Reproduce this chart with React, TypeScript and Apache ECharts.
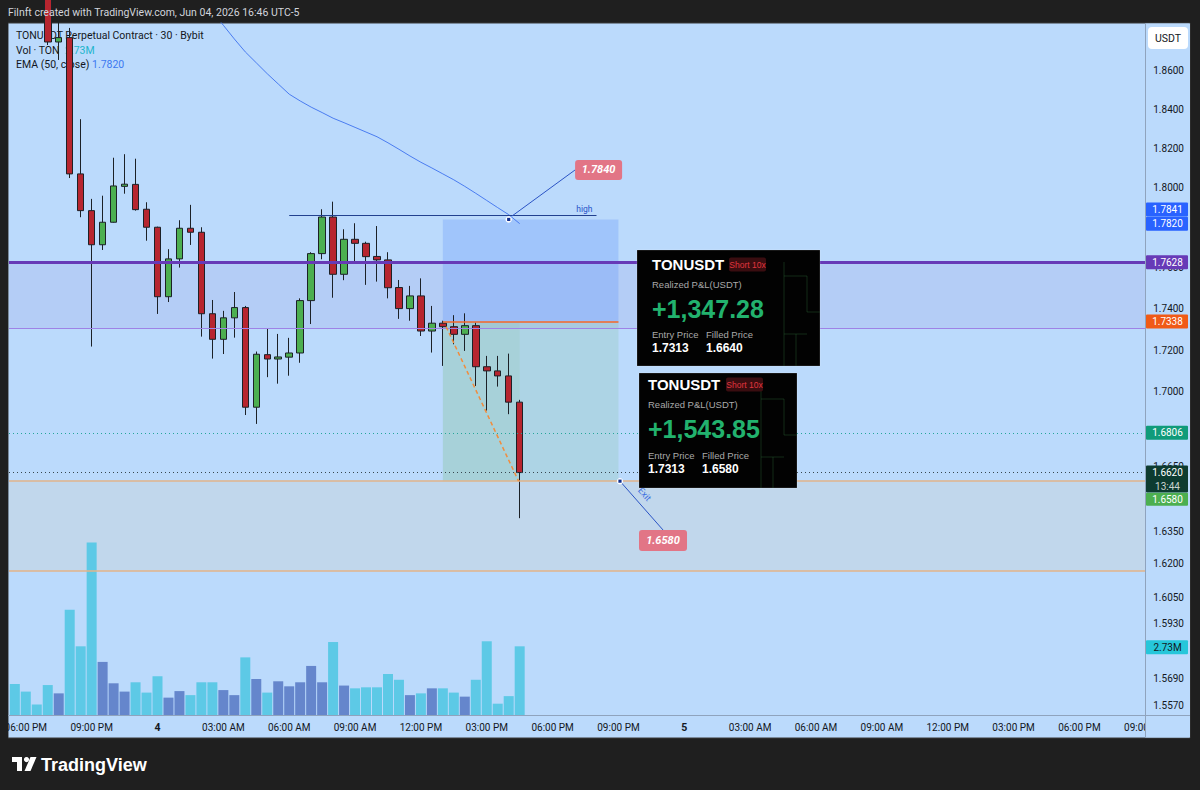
import React, { useEffect, useRef } from "react";
import * as echarts from "echarts";

// ---------- data ----------
const BAR_INDEX = [-13,-12,-11,-10,-9,-8,-7,-6,-5,-4,-3,-2,-1,0,1,2,3,4,5,6,7,8,9,10,11,12,13,14,15,16,17,18,19,20,21,22,23,24,25,26,27,28,29,30,31,32,33];
const OPEN = [1.955,1.932,1.918,1.905,1.875,1.8773,1.807,1.7885,1.7715,1.7827,1.8007,1.8017,1.7892,1.7802,1.7459,1.7645,1.7797,1.7777,1.7376,1.7252,1.7356,1.7406,1.6927,1.7178,1.7157,1.7166,1.7186,1.744,1.7671,1.7853,1.7569,1.7742,1.7722,1.7657,1.764,1.7504,1.7401,1.7463,1.7292,1.733,1.7313,1.7276,1.7318,1.712,1.71,1.7076,1.6951];
const CLOSE = [1.932,1.918,1.905,1.875,1.8773,1.807,1.7885,1.7715,1.7827,1.8009,1.8018,1.789,1.7802,1.7459,1.7645,1.7797,1.7777,1.7376,1.7252,1.7356,1.7406,1.6927,1.718,1.7157,1.7167,1.7186,1.744,1.7671,1.7853,1.7569,1.7742,1.7722,1.7656,1.764,1.7503,1.7401,1.7463,1.7292,1.733,1.7313,1.7276,1.7318,1.712,1.71,1.7076,1.6951,1.662];
const LOW = [1.925,1.91,1.899,1.8734,1.8656,1.8049,1.7852,1.7217,1.7689,1.7825,1.797,1.7885,1.7735,1.7375,1.7433,1.7602,1.7714,1.7265,1.7159,1.7181,1.726,1.689,1.6848,1.707,1.7039,1.7077,1.7139,1.7326,1.7643,1.7454,1.754,1.7631,1.7517,1.7533,1.7451,1.7351,1.7342,1.7268,1.7188,1.7124,1.7228,1.7196,1.7028,1.6911,1.7025,1.6894,1.6409];
const HIGH = [1.962,1.94,1.925,1.91,1.895,1.8824,1.8349,1.7944,1.796,1.8152,1.817,1.8147,1.7927,1.7805,1.7693,1.7837,1.7914,1.7802,1.7443,1.739,1.7482,1.7414,1.7193,1.7302,1.7278,1.7259,1.7451,1.7678,1.7892,1.793,1.7792,1.7822,1.773,1.7808,1.7678,1.7541,1.7512,1.7549,1.7414,1.7342,1.7369,1.7378,1.7333,1.7172,1.7172,1.7183,1.6962];
const VOLUME_M = [1.23,0.93,0.42,1.19,0.86,4.18,2.73,6.86,2.11,1.26,0.93,1.3,0.89,1.54,0.69,0.95,0.79,1.3,1.3,0.99,0.79,2.29,1.43,0.89,1.34,1.14,1.3,1.95,1.3,2.9,1.17,1.06,1.1,1.1,1.63,1.4,0.79,0.86,1.06,1.06,0.89,0.73,1.4,2.93,0.45,0.75,2.73];
const EMA_INDEX = [5,6,7,8,9,10,11,12,13,14,15,16,17,18,19,20,21,22,23,24,25,26,27,28,29,30,31,32,33];
const EMA = [1.8909,1.8838,1.8766,1.8698,1.8641,1.8584,1.8531,1.8478,1.8443,1.8411,1.8383,1.8354,1.8331,1.8307,1.8283,1.8259,1.8228,1.8195,1.8161,1.8129,1.81,1.807,1.804,1.8007,1.7972,1.7936,1.79,1.7865,1.782];

// visible price-scale ticks (1.78, 1.68 and 1.65 sit fully under price tags in the reference)
const PRICE_TICKS = [1.86,1.84,1.82,1.8,1.76,1.74,1.72,1.7,1.665,1.635,1.62,1.605,1.593,1.581,1.569,1.557];
const TIME_TICKS = [-12,-6,0,6,12,18,24,30,36,42,48,54,60,66,72,78,84,90];
const TIME_TICK_LABELS = ["06:00 PM","09:00 PM","4","03:00 AM","06:00 AM","09:00 AM","12:00 PM","03:00 PM","06:00 PM","09:00 PM","5","03:00 AM","06:00 AM","09:00 AM","12:00 PM","03:00 PM","06:00 PM","09:00 PM"];

// price levels / drawings
const LEVEL_PURPLE = 1.7628;
const LEVEL_PURPLE_LOW = 1.7305;
const ENTRY_LINE = 1.7338;
const STOP = 1.7841;
const TARGET = 1.658;
const BAND_LOW = 1.6168;
const LEVEL_TEAL = 1.6806;
const LAST = 1.662;
const HIGH_LINE = 1.7862;
const EMA_LAST = 1.782;
const LAST_VOL = 2.73;
const POSITION_X = [26, 42];
const FILLED_X = 33;
const HIGH_LINE_X = [12, 40];
const TRADE_PATH = [[26.3, 1.7313], [32.9, 1.658]];
const NOTE_HIGH = { dot: [32, 1.7841], from: [32.3, 1.7858], to: [38.05, 1.809], text: "1.7840" };
const NOTE_EXIT = { dot: [42.14, 1.658], to: [46.06, 1.6355], text: "1.6580" };

// ---------- style ----------
const FONT = "Roboto, 'Noto Sans', sans-serif";
const CARD_FONT = "'Liberation Sans', Arial, sans-serif";
const PAGE_BG = "#1F1F1F";
const PLOT_BG = "#BBDAFC";
const SEP = "#8FA3BD";
const TXT = "#131722";
const X_MIN = (9 - 157.5) / 10.975;
const X_MAX = 90;
const Y_MIN = 1.5529;
const Y_MAX = 1.885;
const VOL_MAX = 6.955;

const fmtTime = (v: number) => {
  const k = TIME_TICKS.indexOf(Math.round(v));
  const s = k >= 0 ? TIME_TICK_LABELS[k] : "";
  return s.length <= 2 ? `{d|${s}}` : s;
};

function buildOption(): any {
  const candleData = BAR_INDEX.map((x, i) => [x, OPEN[i], CLOSE[i], LOW[i], HIGH[i]]);
  const volumeData = BAR_INDEX.map((x, i) => ({
    value: [x, VOLUME_M[i]],
    itemStyle: { color: CLOSE[i] >= OPEN[i] ? "#6586CC" : "#5DC9E6" },
  }));
  const emaData = EMA_INDEX.map((x, i) => [x, EMA[i]]);
  return {
    animation: false,
    backgroundColor: PAGE_BG,
    textStyle: { fontFamily: FONT },
    grid: [
      { left: 9, right: 54.75, top: 23, bottom: 75, containLabel: false, outerBoundsMode: "none" },
      { left: 9, right: 54.75, top: 540, bottom: 75, containLabel: false, outerBoundsMode: "none" },
    ],
    xAxis: [
      {
        type: "value", gridIndex: 0, min: X_MIN, max: X_MAX,
        axisLine: { show: false }, axisTick: { show: false }, splitLine: { show: false },
        axisLabel: {
          customValues: TIME_TICKS, formatter: fmtTime, margin: 7, fontSize: 10, color: TXT, fontFamily: FONT,
          rich: { d: { fontWeight: "bold", fontSize: 10.5, color: TXT, fontFamily: FONT } },
        },
      },
      { type: "value", gridIndex: 1, min: X_MIN, max: X_MAX, show: false },
    ],
    yAxis: [
      {
        type: "log", logBase: 10, gridIndex: 0, position: "right", min: Y_MIN, max: Y_MAX, z: 60,
        axisLine: { show: false }, axisTick: { show: false }, splitLine: { show: false },
        axisLabel: {
          customValues: PRICE_TICKS, formatter: (v: number) => Number(v).toFixed(4),
          margin: 8, fontSize: 10, color: TXT, fontFamily: FONT,
        },
      },
      { type: "value", gridIndex: 1, min: 0, max: VOL_MAX, show: false },
    ],
    series: [
      {
        type: "bar", name: "Vol", xAxisIndex: 1, yAxisIndex: 1, data: volumeData, barWidth: 10, z: 2, silent: true,
      },
      {
        type: "candlestick", name: "TONUSDT", xAxisIndex: 0, yAxisIndex: 0, data: candleData, barWidth: 7,
        z: 3, clip: true, silent: true,
        itemStyle: { color: "#4CAF50", color0: "#B7252F", borderColor: "#1C2127", borderColor0: "#1C2127", borderWidth: 1 },
        markArea: {
          silent: true, label: { show: false },
          data: [
            [{ yAxis: LEVEL_PURPLE, itemStyle: { color: "rgba(103,58,183,0.08)" } }, { yAxis: LEVEL_PURPLE_LOW }],
            [{ yAxis: TARGET, itemStyle: { color: "rgba(230,200,150,0.15)" } }, { yAxis: BAND_LOW }],
            [{ coord: [POSITION_X[0], STOP], itemStyle: { color: "rgba(100,150,250,0.3)" } }, { coord: [POSITION_X[1], ENTRY_LINE] }],
            [{ coord: [POSITION_X[0], ENTRY_LINE], itemStyle: { color: "rgba(120,190,140,0.2)" } }, { coord: [POSITION_X[1], TARGET] }],
            [{ coord: [POSITION_X[0], ENTRY_LINE], itemStyle: { color: "rgba(120,190,130,0.12)" } }, { coord: [FILLED_X, TARGET] }],
          ],
        },
        markLine: {
          silent: true, precision: 4, symbol: ["none", "none"], label: { show: false }, emphasis: { disabled: true },
          data: [
            { yAxis: LEVEL_PURPLE, lineStyle: { color: "#673AB7", width: 3, type: "solid" } },
            { yAxis: LEVEL_PURPLE_LOW, lineStyle: { color: "#9E82E6", width: 1, type: "solid" } },
            { yAxis: TARGET, lineStyle: { color: "#E2B38A", width: 1.5, type: "solid" } },
            { yAxis: BAND_LOW, lineStyle: { color: "#E2B38A", width: 1.5, type: "solid" } },
            { yAxis: LEVEL_TEAL, lineStyle: { color: "#26A69A", width: 1, type: [1, 3] } },
            { yAxis: LAST, lineStyle: { color: "#37474F", width: 1, type: [1, 3] } },
            [{ coord: [HIGH_LINE_X[0], HIGH_LINE], lineStyle: { color: "#22418F", width: 1.2, type: "solid" } }, { coord: [HIGH_LINE_X[1], HIGH_LINE] }],
            [{ coord: [POSITION_X[0], ENTRY_LINE], lineStyle: { color: "#F4662A", width: 1.5, type: "solid" } }, { coord: [POSITION_X[1], ENTRY_LINE] }],
            [{ coord: TRADE_PATH[0], lineStyle: { color: "#F28C3C", width: 1.5, type: [4, 3] } }, { coord: TRADE_PATH[1] }],
          ],
        },
      },
      {
        type: "line", name: "EMA", xAxisIndex: 0, yAxisIndex: 0, data: emaData, symbol: "none", z: 4, clip: true,
        silent: true, lineStyle: { color: "#4A7CF0", width: 1 },
      },
    ],
  };
}

function txt(x: number, y: number, text: string, o: any = {}) {
  return {
    type: "text", x, y, z: o.z ?? 70, rotation: o.rotation ?? 0, silent: true,
    style: {
      text, fill: o.fill ?? TXT, fontSize: o.size ?? 10, fontFamily: o.family ?? FONT,
      fontWeight: o.weight ?? "normal", fontStyle: o.fstyle ?? "normal",
      align: o.align ?? "left", verticalAlign: "middle",
      textAlign: o.align ?? "left", textVerticalAlign: "middle",
    },
  };
}
function rect(x: number, y: number, w: number, h: number, fill: string, o: any = {}) {
  return {
    type: "rect", z: o.z ?? 70, silent: true,
    shape: { x, y, width: w, height: h, r: o.r ?? 0 },
    style: { fill, stroke: o.stroke ?? null, lineWidth: o.lw ?? 0 },
  };
}
function seg(x1: number, y1: number, x2: number, y2: number, stroke: string, o: any = {}) {
  return { type: "line", z: o.z ?? 20, silent: true, shape: { x1, y1, x2, y2 }, style: { stroke, lineWidth: o.lw ?? 1 } };
}

function card(x0: number, y0: number, w: number, h: number, tx: number, rows: number[], badgeX: number, filledX: number, pnl: string, filled: string) {
  const z = 80;
  const els: any[] = [];
  els.push(rect(x0, y0, w, h, "#020202", { z, stroke: "rgba(255,255,255,0.18)", lw: 1 }));
  const g = "rgba(40,95,50,0.45)";
  const gx = x0 + w - 36;
  els.push(seg(gx, y0 + 12, gx, y0 + h, g, { z }));
  els.push(seg(gx, y0 + 26, gx + 23, y0 + 26, g, { z }));
  els.push(seg(gx + 23, y0 + 26, gx + 23, y0 + 62, g, { z }));
  els.push(seg(gx + 23, y0 + 62, x0 + w, y0 + 62, g, { z }));
  els.push(seg(gx, y0 + 84, gx + 23, y0 + 84, g, { z }));
  els.push(seg(gx + 12, y0 + 84, gx + 12, y0 + h, g, { z }));
  els.push(txt(x0 + tx, y0 + rows[0], "TONUSDT", { z, fill: "#FFFFFF", size: 15, weight: "bold", family: CARD_FONT }));
  els.push(rect(x0 + badgeX, y0 + rows[0] - 7, 37, 14, "#3A0D10", { z, r: 2 }));
  els.push(txt(x0 + badgeX + 18.5, y0 + rows[0], "Short 10x", { z, fill: "#E0353E", size: 8.5, align: "center", family: CARD_FONT }));
  els.push(txt(x0 + tx, y0 + rows[1], "Realized P&L(USDT)", { z, fill: "#A9A9A9", size: 9.5, family: CARD_FONT }));
  els.push(txt(x0 + tx, y0 + rows[2], pnl, { z, fill: "#22B26E", size: 25, weight: "bold", family: CARD_FONT }));
  els.push(txt(x0 + tx, y0 + rows[3], "Entry Price", { z, fill: "#A9A9A9", size: 9.5, family: CARD_FONT }));
  els.push(txt(x0 + filledX, y0 + rows[3], "Filled Price", { z, fill: "#A9A9A9", size: 9.5, family: CARD_FONT }));
  els.push(txt(x0 + tx, y0 + rows[4], "1.7313", { z, fill: "#FFFFFF", size: 12, weight: "bold", family: CARD_FONT }));
  els.push(txt(x0 + filledX, y0 + rows[4], filled, { z, fill: "#FFFFFF", size: 12, weight: "bold", family: CARD_FONT }));
  return els;
}

function buildOverlay(chart: any) {
  const P = (x: number, p: number) => chart.convertToPixel({ gridIndex: 0 }, [x, p]) as number[];
  const yP = (p: number) => P(0, p)[1];
  const yV = (v: number) => (chart.convertToPixel({ gridIndex: 1 }, [0, v]) as number[])[1];
  const els: any[] = [];

  // panel frame
  els.push(rect(8, 23, 1182, 715, PLOT_BG, { z: -10, stroke: "#3A3A3A", lw: 1 }));
  els.push(rect(1145.5, 23.5, 44.5, 714, PLOT_BG, { z: 50 }));
  els.push(seg(1145.5, 23, 1145.5, 738, SEP, { z: 55 }));
  els.push(seg(8, 715.5, 1190, 715.5, SEP, { z: 55 }));
  els.push(rect(0, 23, 8, 716, PAGE_BG, { z: 100 }));

  // header bar
  els.push(txt(8, 12, "Filnft created with TradingView.com, Jun 04, 2026 16:46 UTC-5", { z: 100, fill: "#D1D4DC", size: 10.5 }));

  // legend
  els.push(txt(16, 35, "TONUSDT Perpetual Contract · 30 · Bybit", { z: 1, size: 10.5 }));
  els.push(txt(16, 50, "Vol · TON", { z: 1, size: 10.5 }));
  els.push(txt(65, 50, "2.73M", { z: 1, size: 10.5, fill: "#22B5CC" }));
  els.push(txt(16, 64.5, "EMA (50, close)", { z: 1, size: 10.5 }));
  els.push(txt(92, 64.5, EMA_LAST.toFixed(4), { z: 1, size: 10.5, fill: "#3B78F0" }));

  // USDT button
  els.push(rect(1148, 27, 40, 22, "#FFFFFF", { z: 70, r: 4 }));
  els.push(txt(1168, 38, "USDT", { z: 71, align: "center", size: 10.5 }));

  // price tags
  const tags = [
    { v: STOP, cy: yP(STOP) - 10, fill: "#2962FF" },
    { v: EMA_LAST, cy: yP(EMA_LAST), fill: "#2962FF" },
    { v: LEVEL_PURPLE, cy: yP(LEVEL_PURPLE), fill: "#673AB7" },
    { v: ENTRY_LINE, cy: yP(ENTRY_LINE), fill: "#F05A17" },
    { v: LEVEL_TEAL, cy: yP(LEVEL_TEAL), fill: "#109B7A" },
  ];
  tags.forEach((t) => {
    els.push(rect(1146, t.cy - 7, 42, 14, t.fill, { z: 70, r: 1 }));
    els.push(txt(1167.5, t.cy, t.v.toFixed(4), { z: 71, align: "center", fill: "#FFFFFF", size: 10 }));
  });
  const yl = yP(LAST);
  els.push(rect(1146, yl - 7, 42, 27, "#0D3B30", { z: 70, r: 1 }));
  els.push(txt(1167.5, yl, LAST.toFixed(4), { z: 71, align: "center", fill: "#FFFFFF", size: 10 }));
  els.push(txt(1167.5, yl + 13.5, "13:44", { z: 71, align: "center", fill: "#C9D3CF", size: 10 }));
  const yt = yP(TARGET) + 18;
  els.push(rect(1146, yt - 6.5, 42, 13, "#4CAF50", { z: 72, r: 1 }));
  els.push(txt(1167.5, yt, TARGET.toFixed(4), { z: 73, align: "center", fill: "#FFFFFF", size: 10 }));
  const yv = yV(LAST_VOL) + 1;
  els.push(rect(1146, yv - 7, 42, 14, "#26C6DA", { z: 70, r: 1 }));
  els.push(txt(1167.5, yv, "2.73M", { z: 71, align: "center", fill: TXT, size: 10 }));

  // "high" label
  const hl = P(HIGH_LINE_X[1], HIGH_LINE);
  els.push(txt(hl[0] - 4, hl[1] - 6.5, "high", { z: 20, align: "right", fill: "#2A55C9", size: 8.5 }));

  // note: 1.7840
  const a0 = P(NOTE_HIGH.from[0], NOTE_HIGH.from[1]);
  const a1 = P(NOTE_HIGH.to[0], NOTE_HIGH.to[1]);
  const ad = P(NOTE_HIGH.dot[0], NOTE_HIGH.dot[1]);
  els.push(seg(a0[0], a0[1], a1[0], a1[1], "#2B54C5", { z: 20 }));
  els.push({ type: "circle", z: 21, silent: true, shape: { cx: ad[0], cy: ad[1], r: 3.2 }, style: { fill: "#FFFFFF" } });
  els.push(rect(ad[0] - 1.6, ad[1] - 1.6, 3.2, 3.2, "#12308F", { z: 22 }));
  els.push(rect(a1[0], a1[1] - 10, 47, 20, "#E27586", { z: 21, r: 3 }));
  els.push(txt(a1[0] + 23.5, a1[1], NOTE_HIGH.text, { z: 22, align: "center", fill: "#FFFFFF", size: 11, weight: "bold", fstyle: "italic" }));

  // note: exit
  const e0 = P(NOTE_EXIT.dot[0], NOTE_EXIT.dot[1]);
  const e1 = P(NOTE_EXIT.to[0], NOTE_EXIT.to[1]);
  els.push(seg(e0[0], e0[1], e1[0], e1[1], "#2B54C5", { z: 20 }));
  els.push({ type: "circle", z: 21, silent: true, shape: { cx: e0[0], cy: e0[1], r: 3.2 }, style: { fill: "#FFFFFF" } });
  els.push(rect(e0[0] - 1.6, e0[1] - 1.6, 3.2, 3.2, "#12308F", { z: 22 }));
  const ang = Math.atan2(e1[1] - e0[1], e1[0] - e0[0]);
  const mx = (e0[0] + e1[0]) / 2 + 8 * Math.sin(ang) - 3;
  const my = (e0[1] + e1[1]) / 2 - 8 * Math.cos(ang) - 6;
  els.push(txt(mx, my, "Exit", { z: 22, align: "center", fill: "#3B6FE0", size: 9, rotation: -ang }));
  els.push(rect(e1[0] - 24, e1[1], 48, 21, "#E27586", { z: 21, r: 3 }));
  els.push(txt(e1[0], e1[1] + 10.5, NOTE_EXIT.text, { z: 22, align: "center", fill: "#FFFFFF", size: 11, weight: "bold", fstyle: "italic" }));

  // P&L cards
  els.push(...card(637, 250, 183, 116, 15, [14.5, 34.5, 58.5, 84, 98], 92, 69, "+1,347.28", "1.6640"));
  els.push(...card(639, 373, 158, 115, 9, [11.5, 31.5, 56, 82, 96], 87, 63, "+1,543.85", "1.6580"));

  // TradingView logo
  els.push(rect(12, 757, 10, 5, "#FFFFFF", { z: 100 }));
  els.push(rect(17, 757, 5, 14, "#FFFFFF", { z: 100 }));
  els.push({ type: "circle", z: 100, silent: true, shape: { cx: 26.5, cy: 759.6, r: 2.6 }, style: { fill: "#FFFFFF" } });
  els.push({ type: "polygon", z: 100, silent: true, shape: { points: [[30.5, 757], [36.5, 757], [30.5, 771], [24.5, 771]] }, style: { fill: "#FFFFFF" } });
  els.push(txt(41, 764.5, "TradingView", { z: 100, fill: "#FFFFFF", size: 18, weight: "bold", family: CARD_FONT }));

  return els;
}

export default function App() {
  const ref = useRef<HTMLDivElement>(null);
  useEffect(() => {
    document.body.style.margin = "0";
    const chart = echarts.init(ref.current as HTMLDivElement, null, { renderer: "svg" });
    chart.setOption(buildOption());
    chart.setOption({ graphic: buildOverlay(chart) });
    return () => chart.dispose();
  }, []);
  return <div ref={ref} style={{ width: 1200, height: 790 }} />;
}
